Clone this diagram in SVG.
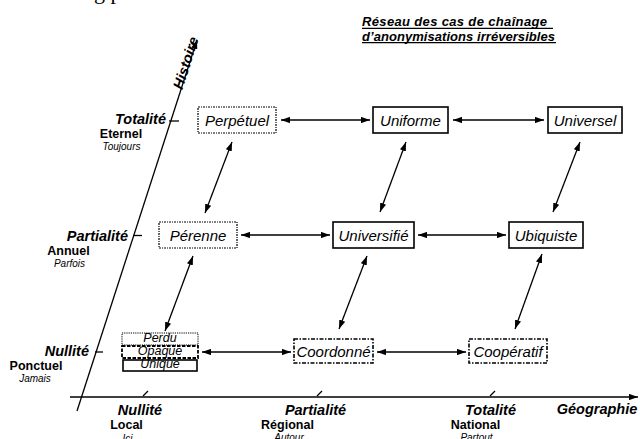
<svg xmlns="http://www.w3.org/2000/svg" width="640" height="439" viewBox="0 0 640 439">
<defs>
<marker id="ah" viewBox="0 0 10 7" refX="10" refY="3.5" markerWidth="9" markerHeight="6.5" markerUnits="userSpaceOnUse" orient="auto-start-reverse">
<path d="M0,0 L10,3.5 L0,7 z" fill="#000"/>
</marker>
</defs>
<style>
text{font-family:"Liberation Sans",Arial,sans-serif;fill:#000}
.node{font-size:15px;font-style:italic;text-anchor:middle}
.small{font-size:12.5px;font-style:italic;text-anchor:middle}
.ax{font-size:14.5px;font-weight:bold;font-style:italic}
.sub{font-size:12.5px;font-weight:bold;text-anchor:middle}
.sub2{font-size:10px;font-style:italic;text-anchor:middle}
.title{font-size:13px;font-weight:bold;font-style:italic}
.b{fill:#fff;stroke:#000}
.solid{stroke-width:1.6}
.dot{stroke-width:1.2;stroke-dasharray:2 1 1 1}
.fine{stroke-width:1;stroke-dasharray:1.2 1}
.dash{stroke-width:1.8;stroke-dasharray:3.5 1.5}
.dd{stroke-width:1.6;stroke-dasharray:4 1.5 1.5 1.5}
.conn line{stroke:#000;stroke-width:1.3;marker-start:url(#ah);marker-end:url(#ah)}
.axis line{stroke:#000;stroke-width:1.3}
</style>
<rect width="640" height="439" fill="#fff"/>
<text x="83" y="-1.5" style="font-family:'Liberation Serif',serif;font-size:22px">ng p</text>

<g id="title">
<text class="title" x="362" y="26" textLength="185" lengthAdjust="spacing">Réseau des cas de chaînage</text>
<text class="title" x="362" y="40.8" textLength="193" lengthAdjust="spacing">d’anonymisations irréversibles</text>
<line x1="362" y1="28.4" x2="553" y2="28.4" stroke="#000" stroke-width="1.1"/>
<line x1="362" y1="42.6" x2="556" y2="42.6" stroke="#000" stroke-width="1.1"/>
</g>

<g id="axes" class="axis">
<line x1="77" y1="411" x2="197" y2="40" marker-end="url(#ah)"/>
<line x1="70" y1="397" x2="638" y2="397" marker-end="url(#ah)"/>
<line x1="169" y1="121" x2="179" y2="121"/>
<line x1="133" y1="235.5" x2="142" y2="235.5"/>
<line x1="95" y1="352" x2="103" y2="352"/>
<line x1="143" y1="396" x2="148" y2="391"/>
<line x1="317" y1="396" x2="322" y2="391"/>
<line x1="490" y1="396" x2="495" y2="391"/>
<text class="ax" transform="translate(190.5,64.5) rotate(-72)" text-anchor="middle">Histoire</text>
</g>

<g id="axis-labels-history">
<text class="ax" x="166" y="124" text-anchor="end">Totalité</text>
<text class="sub" x="121" y="137.5">Eternel</text>
<text class="sub2" x="121.5" y="149.5">Toujours</text>
<text class="ax" x="128" y="240.5" text-anchor="end">Partialité</text>
<text class="sub" x="68.5" y="254.5">Annuel</text>
<text class="sub2" x="69.5" y="266.5">Parfois</text>
<text class="ax" x="89" y="356" text-anchor="end">Nullité</text>
<text class="sub" x="36" y="369.5">Ponctuel</text>
<text class="sub2" x="35" y="382">Jamais</text>
</g>

<g id="axis-labels-geography">
<text class="ax" x="140" y="415" text-anchor="middle">Nullité</text>
<text class="sub" x="126.5" y="429">Local</text>
<text class="sub2" x="127.5" y="441.5">Ici</text>
<text class="ax" x="315.5" y="415" text-anchor="middle">Partialité</text>
<text class="sub" x="287.5" y="429">Régional</text>
<text class="sub2" x="289" y="441">Autour</text>
<text class="ax" x="490.5" y="415" text-anchor="middle">Totalité</text>
<text class="sub" x="475.5" y="429">National</text>
<text class="sub2" x="476.5" y="441">Partout</text>
<text class="ax" x="597" y="414" text-anchor="middle">Géographie</text>
</g>

<g id="n-perpetuel"><rect class="b dot" x="198" y="107" width="78" height="26"/><text class="node" x="237" y="125.5">Perpétuel</text></g>
<g id="n-uniforme"><rect class="b solid" x="373" y="107" width="75" height="26"/><text class="node" x="410.5" y="125.5">Uniforme</text></g>
<g id="n-universel"><rect class="b solid" x="548" y="107" width="74" height="26"/><text class="node" x="585" y="125.5">Universel</text></g>

<g id="n-perenne"><rect class="b dot" x="159" y="222" width="78" height="26"/><text class="node" x="198" y="240.5">Pérenne</text></g>
<g id="n-universifie"><rect class="b solid" x="333" y="222" width="81" height="26"/><text class="node" x="373.5" y="240.5">Universifié</text></g>
<g id="n-ubiquiste"><rect class="b solid" x="509" y="222" width="74" height="26"/><text class="node" x="546" y="240.5">Ubiquiste</text></g>

<g id="n-perdu"><rect class="b fine" x="122" y="333" width="76" height="12"/><text class="small" x="160" y="342">Perdu</text></g>
<g id="n-opaque"><rect class="b dash" x="122" y="346" width="76" height="12"/><text class="small" x="160" y="355">Opaque</text></g>
<g id="n-unique"><rect class="b solid" x="123" y="360" width="74" height="11"/><text class="small" x="160" y="368">Unique</text></g>

<g id="n-coordonne"><rect class="b dd" x="294" y="339" width="79" height="24"/><text class="node" x="333.5" y="357">Coordonné</text></g>
<g id="n-cooperatif"><rect class="b dd" x="469" y="339" width="78" height="24"/><text class="node" x="508" y="357">Coopératif</text></g>

<g id="connectors" class="conn">
<line x1="281" y1="120" x2="370" y2="120"/>
<line x1="453" y1="120" x2="544" y2="120"/>
<line x1="241" y1="235" x2="330" y2="235"/>
<line x1="418" y1="235" x2="506" y2="235"/>
<line x1="202" y1="352" x2="291" y2="352"/>
<line x1="377" y1="352" x2="466" y2="352"/>
<line x1="232" y1="142" x2="205" y2="213"/>
<line x1="406" y1="142" x2="380" y2="212"/>
<line x1="580" y1="142" x2="553" y2="212"/>
<line x1="193" y1="256" x2="165" y2="331"/>
<line x1="367" y1="256" x2="339" y2="329"/>
<line x1="542" y1="254" x2="515" y2="329"/>
</g>
</svg>
